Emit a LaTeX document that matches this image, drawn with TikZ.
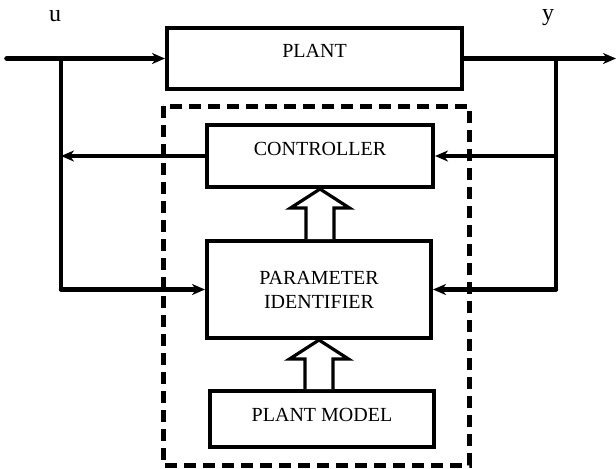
\documentclass[tikz,border=0pt]{standalone}
\usepackage{fontspec}
\setmainfont{Liberation Serif}
\usetikzlibrary{arrows.meta, positioning, calc}

\begin{document}
\begin{tikzpicture}[
    x=0.5pt, y=-0.5pt,
    font=\normalsize,
    % Styles
    block/.style = {rectangle, draw=black, line width=2pt, inner sep=0pt, align=center},
    arrow/.style = {-{Stealth[length=6.5pt, width=5.5pt, inset=2pt]}, line width=2.2pt, line cap=round},
    main_arrow/.style = {arrow, line width=2.8pt},
    tap/.style = {line width=1.7pt, line cap=round},
    hollow/.style = {draw=black, fill=white, line width=1.6pt, line join=miter},
    dash_box/.style = {draw=black, line width=2.5pt, dash pattern=on 6pt off 3.5pt},
    signal/.style = {font=\large, anchor=base}
]
\useasboundingbox (0,0) rectangle (616,468);

% --- BLOCKS ---
\node[block, minimum width=147.5pt, minimum height=30.5pt, text depth=8pt] (plant) at (314.5,58.5) {PLANT};
\node[block, minimum width=113pt, minimum height=31pt, text depth=7.5pt] (ctrl) at (320,156) {CONTROLLER};
\node[block, minimum width=112pt, minimum height=48.5pt] (ident) at (319,289.5) {PARAMETER\\IDENTIFIER};
\node[block, minimum width=112pt, minimum height=28pt, text depth=4.5pt] (model) at (322,419) {PLANT MODEL};

% --- ADAPTIVE PART ---
\draw[dash_box] (163,106) rectangle (469,465);

% --- SIGNALS ---
\coordinate (in_start) at (7,58.5);
\coordinate (in_tap) at (61,58.5);
\coordinate (out_tap) at (556,58.5);
\coordinate (out_end) at (616,58.5);

\node[signal] (u_label) at (55,21) {u};
\node[signal] (y_label) at (548,20) {y};

\draw[main_arrow] (in_start) -- (plant.west);
\draw[main_arrow] (plant.east) -- (out_end);

\draw[tap] (in_tap) -- (in_tap |- ident.west);
\draw[arrow] (in_tap |- ident.west) -- (ident.west);
\draw[arrow] (ctrl.west) -- (ctrl.west -| in_tap);
\draw[tap] (out_tap) -- (out_tap |- ident.east);
\draw[arrow] (out_tap |- ident.east) -- (ident.east);
\draw[arrow] (ctrl.east -| out_tap) -- (ctrl.east);

% --- HOLLOW ARROWS ---
\foreach \src/\dst in {ident/ctrl, model/ident} {
    \draw[hollow] ($(\dst.south |- \src.north)+(-14,0)$) -- ($(\dst.south)+(-14,19)$)
        -- ($(\dst.south)+(-29.5,19)$) -- (\dst.south) -- ($(\dst.south)+(29.5,19)$)
        -- ($(\dst.south)+(14,19)$) -- ($(\dst.south |- \src.north)+(14,0)$);
}

\end{tikzpicture}
\end{document}
